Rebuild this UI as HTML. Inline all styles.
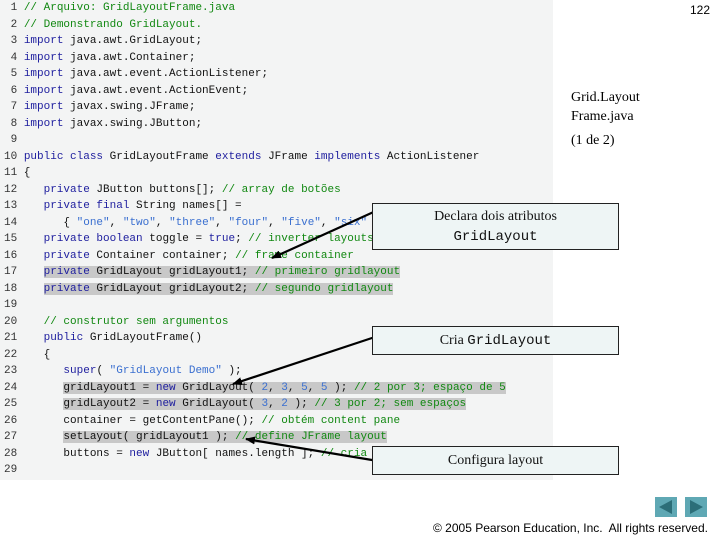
<!DOCTYPE html>
<html><head><meta charset="utf-8"><style>
body{margin:0;width:720px;height:540px;background:#fff;position:relative;overflow:hidden;font-family:"Liberation Sans",sans-serif}
#code{position:absolute;left:0;top:0;width:553px;height:480px;background:#f3f4f4}
pre{position:absolute;left:4px;top:0;margin:0;font:11px/16.5px "Liberation Mono",monospace;color:#111}
.k{color:#1d1d9e}.c{color:#118811}.s{color:#3a6fd0}.h{background:#c8c8c8}.n{color:#333}
.box{position:absolute;left:372px;width:247px;box-sizing:border-box;background:#eef5f5;border:1px solid #222;text-align:center;font:14px "Liberation Serif",serif;color:#111}
.m{font-family:"Liberation Mono",monospace}
.side{position:absolute;left:571px;font:14px/19px "Liberation Serif",serif;color:#000}
.nav{position:absolute;top:497px;width:22px;height:20px;background:#5fa8b4}
</style></head><body>
<div id="code"></div>
<pre><span class="n"> 1</span> <span class="c">// Arquivo: GridLayoutFrame.java</span>
<span class="n"> 2</span> <span class="c">// Demonstrando GridLayout.</span>
<span class="n"> 3</span> <span class="k">import</span> java.awt.GridLayout;
<span class="n"> 4</span> <span class="k">import</span> java.awt.Container;
<span class="n"> 5</span> <span class="k">import</span> java.awt.event.ActionListener;
<span class="n"> 6</span> <span class="k">import</span> java.awt.event.ActionEvent;
<span class="n"> 7</span> <span class="k">import</span> javax.swing.JFrame;
<span class="n"> 8</span> <span class="k">import</span> javax.swing.JButton;
<span class="n"> 9</span>
<span class="n">10</span> <span class="k">public class</span> GridLayoutFrame <span class="k">extends</span> JFrame <span class="k">implements</span> ActionListener
<span class="n">11</span> {
<span class="n">12</span>    <span class="k">private</span> JButton buttons[]; <span class="c">// array de botões</span>
<span class="n">13</span>    <span class="k">private final</span> String names[] =
<span class="n">14</span>       { <span class="s">"one"</span>, <span class="s">"two"</span>, <span class="s">"three"</span>, <span class="s">"four"</span>, <span class="s">"five"</span>, <span class="s">"six"</span> };
<span class="n">15</span>    <span class="k">private boolean</span> toggle = <span class="k">true</span>; <span class="c">// inverter layouts</span>
<span class="n">16</span>    <span class="k">private</span> Container container; <span class="c">// frame container</span>
<span class="n">17</span>    <span class="h"><span class="k">private</span> GridLayout gridLayout1; <span class="c">// primeiro gridlayout</span></span>
<span class="n">18</span>    <span class="h"><span class="k">private</span> GridLayout gridLayout2; <span class="c">// segundo gridlayout</span></span>
<span class="n">19</span>
<span class="n">20</span>    <span class="c">// construtor sem argumentos</span>
<span class="n">21</span>    <span class="k">public</span> GridLayoutFrame()
<span class="n">22</span>    {
<span class="n">23</span>       <span class="k">super</span>( <span class="s">"GridLayout Demo"</span> );
<span class="n">24</span>       <span class="h">gridLayout1 = <span class="k">new</span> GridLayout( <span class="s">2</span>, <span class="s">3</span>, <span class="s">5</span>, <span class="s">5</span> ); <span class="c">// 2 por 3; espaço de 5</span></span>
<span class="n">25</span>       <span class="h">gridLayout2 = <span class="k">new</span> GridLayout( <span class="s">3</span>, <span class="s">2</span> ); <span class="c">// 3 por 2; sem espaços</span></span>
<span class="n">26</span>       container = getContentPane(); <span class="c">// obtém content pane</span>
<span class="n">27</span>       <span class="h">setLayout( gridLayout1 ); <span class="c">// define JFrame layout</span></span>
<span class="n">28</span>       buttons = <span class="k">new</span> JButton[ names.length ]; <span class="c">// cria array</span>
<span class="n">29</span></pre>
<svg width="720" height="540" style="position:absolute;left:0;top:0">
<defs><marker id="a" markerWidth="10" markerHeight="8" refX="9" refY="4" orient="auto" markerUnits="userSpaceOnUse"><path d="M0,0L10,4L0,8z" fill="#000"/></marker></defs>
<g stroke="#000" stroke-width="2.2" marker-end="url(#a)">
<line x1="378" y1="210" x2="272" y2="258"/>
<line x1="378" y1="336" x2="233" y2="384"/>
<line x1="378" y1="461" x2="246" y2="439"/>
</g></svg>
<div class="box" style="top:203px;height:47px;line-height:20px;padding-top:3px">Declara dois atributos<br><span class="m">GridLayout</span></div>
<div class="box" style="top:326px;height:29px;line-height:27px">Cria <span class="m">GridLayout</span></div>
<div class="box" style="top:446px;height:29px;line-height:27px">Configura layout</div>
<div style="position:absolute;left:690px;top:3px;font:12px 'Liberation Sans',sans-serif">122</div>
<div class="side" style="top:88px">Grid.Layout<br>Frame.java</div>
<div class="side" style="top:131px">(1 de 2)</div>
<div class="nav" style="left:655px"><svg width="22" height="20"><path d="M4,10L17,3V17z" fill="#2c6e78"/></svg></div>
<div class="nav" style="left:685px"><svg width="22" height="20"><path d="M18,10L5,3V17z" fill="#2c6e78"/></svg></div>
<div style="position:absolute;left:433px;top:521px;font:12px 'Liberation Sans',sans-serif;white-space:nowrap">© 2005 Pearson Education, Inc.&nbsp; All rights reserved.</div>
</body></html>
